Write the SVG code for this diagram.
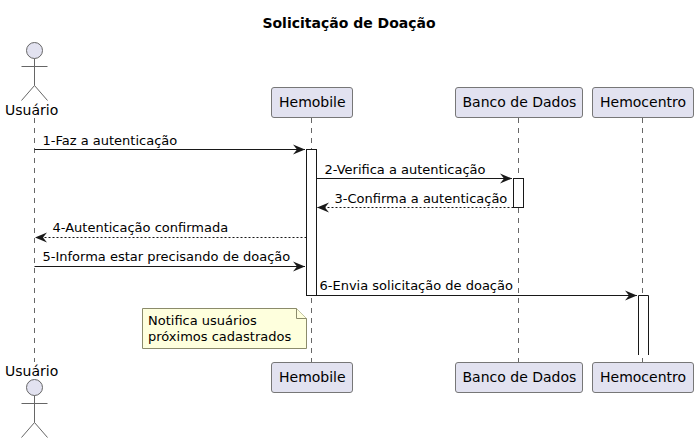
<svg xmlns="http://www.w3.org/2000/svg" width="698" height="443" viewBox="0 0 698 443">
<style>
text{font-family:"DejaVu Sans",sans-serif;fill:#000}
.t{font-size:14px}
.m{font-size:13px}
.life{stroke:#666;stroke-width:1;stroke-dasharray:5,5;fill:none}
.box{fill:#E2E2F0;stroke:#777;stroke-width:1}
.act{fill:#E2E2F0;stroke:#666;stroke-width:1}
.line{fill:none;stroke:#666;stroke-width:1}
.bar{fill:#fff;stroke:#181818;stroke-width:1}
.msg{stroke:#181818;stroke-width:1;fill:none}
.dash{stroke-dasharray:2,2}
.note{fill:#FEFFDD;stroke:#8b8b6b;stroke-width:1}
</style>
<defs>
<marker id="ah" markerUnits="userSpaceOnUse" markerWidth="14" markerHeight="12" refX="12" refY="5" orient="auto" overflow="visible">
<path d="M0,0L12,5L0,10L4,5Z" fill="#181818"/>
</marker>
</defs>
<text id="title" x="349" y="28" text-anchor="middle" font-size="14" font-weight="bold">Solicitação de Doação</text>
<g id="lifelines">
<path class="life" d="M34.5,118V362"/>
<path class="life" d="M311.5,118V362"/>
<path class="life" d="M518.5,118V362"/>
<path class="life" d="M642.5,118V362"/>
</g>
<g id="activations">
<rect class="bar" x="306.5" y="149.5" width="10" height="146"/>
<rect class="bar" x="513.5" y="178.5" width="10" height="29"/>
<path d="M638.5,355V295.5H648.5V355" fill="#fff" stroke="#181818"/>
</g>
<g id="connectors">
<path class="msg" marker-end="url(#ah)" d="M34.5,149.5H305"/>
<path class="msg" marker-end="url(#ah)" d="M316.5,178.5H512"/>
<path class="msg dash" marker-end="url(#ah)" d="M513.5,207.5H317"/>
<path class="msg dash" marker-end="url(#ah)" d="M306.5,237.5H35"/>
<path class="msg" marker-end="url(#ah)" d="M34.5,266.5H305"/>
<path class="msg" marker-end="url(#ah)" d="M316.5,295.5H637"/>
</g>
<g id="labels">
<text class="m" x="42.5" y="145">1-Faz a autenticação</text>
<text class="m" x="324.5" y="174">2-Verifica a autenticação</text>
<text class="m" x="334.5" y="203">3-Confirma a autenticação</text>
<text class="m" x="52.5" y="232">4-Autenticação confirmada</text>
<text class="m" x="42.5" y="261">5-Informa estar precisando de doação</text>
<text class="m" x="319.5" y="290">6-Envia solicitação de doação</text>
</g>
<g id="actor-usuario-top">
<circle class="act" cx="34.5" cy="50.5" r="8"/>
<path class="line" d="M34.5,58.5V85.5M21.5,66.5H47.5M34.5,85.5L21.5,100.5M34.5,85.5L47.5,100.5"/>
<text class="t" x="5" y="115">Usuário</text>
</g>
<g id="actor-usuario-bottom">
<text class="t" x="5" y="376">Usuário</text>
<circle class="act" cx="34.5" cy="387.5" r="8"/>
<path class="line" d="M34.5,395.5V422.5M21.5,403.5H47.5M34.5,422.5L21.5,437.5M34.5,422.5L47.5,437.5"/>
</g>
<g id="hemobile-top"><rect class="box" x="271.5" y="87.5" width="81" height="30" rx="2.5"/><text class="t" x="279" y="107">Hemobile</text></g>
<g id="banco-top"><rect class="box" x="455.5" y="87.5" width="127" height="30" rx="2.5"/><text class="t" x="462.5" y="107">Banco de Dados</text></g>
<g id="hemocentro-top"><rect class="box" x="592.5" y="87.5" width="101" height="30" rx="2.5"/><text class="t" x="600" y="107">Hemocentro</text></g>
<g id="hemobile-bottom"><rect class="box" x="271.5" y="362.5" width="81" height="30" rx="2.5"/><text class="t" x="279" y="382">Hemobile</text></g>
<g id="banco-bottom"><rect class="box" x="455.5" y="362.5" width="127" height="30" rx="2.5"/><text class="t" x="462.5" y="382">Banco de Dados</text></g>
<g id="hemocentro-bottom"><rect class="box" x="592.5" y="362.5" width="101" height="30" rx="2.5"/><text class="t" x="600" y="382">Hemocentro</text></g>
<g id="note">
<path class="note" d="M142.5,308.5H296.5L306.5,318.5V348.5H142.5Z"/>
<path class="note" d="M296.5,308.5V318.5H306.5"/>
<text class="m" x="148" y="325">Notifica usuários</text>
<text class="m" x="148" y="341">próximos cadastrados</text>
</g>
</svg>
